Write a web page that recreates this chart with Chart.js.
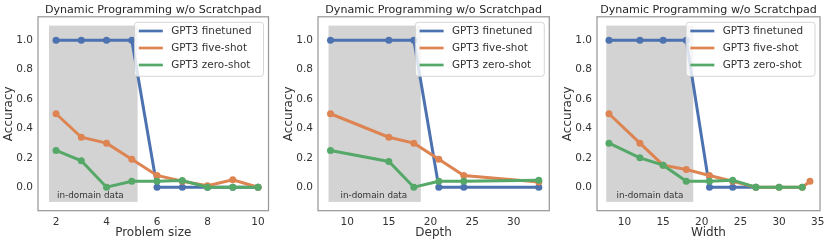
<!DOCTYPE html>
<html>
<head>
<meta charset="utf-8">
<script src="https://cdn.jsdelivr.net/npm/chart.js@4.4.1/dist/chart.umd.min.js"></script>
<style>
  body { margin: 0; background: #fff; }
  #wrap { position: relative; width: 830px; height: 243px; }
  canvas { position: absolute; top: 0; }
</style>
</head>
<body>
<div id="wrap">
  <canvas id="c1" width="275" height="243" style="left:0px"></canvas>
  <canvas id="c2" width="275" height="243" style="left:280px"></canvas>
  <canvas id="c3" width="271" height="243" style="left:559px"></canvas>
</div>
<script>
const seriesNames = ['GPT3 finetuned', 'GPT3 five-shot', 'GPT3 zero-shot'];
const seriesColors = ['#4c72b0', '#dd8452', '#55a868'];
const chartTitle = 'Dynamic Programming w/o Scratchpad';

// Problem size
const sizeX = [2, 3, 4, 5, 6, 7, 8, 9, 10];
const sizeFinetuned = [1, 1, 1, 1, 0, 0, 0, 0, 0];
const sizeFiveShot = [0.5, 0.34, 0.30, 0.19, 0.08, 0.04, 0.01, 0.05, 0];
const sizeZeroShot = [0.25, 0.18, 0, 0.04, 0.04, 0.045, 0, 0, 0];
const sizeTicks = [2, 4, 6, 8, 10];
const sizeDomain = [1.72, 5.23];

// Depth
const depthX = [8, 15, 18, 21, 24, 33];
const depthFinetuned = [1, 1, 1, 0, 0, 0];
const depthFiveShot = [0.5, 0.34, 0.30, 0.19, 0.08, 0.035];
const depthZeroShot = [0.25, 0.175, 0, 0.04, 0.04, 0.047];
const depthTicks = [10, 15, 20, 25, 30];
const depthDomain = [7.76, 18.84];

// Width
const widthXFinetuned = [8, 12, 15, 18, 21, 24, 27];
const widthFinetuned = [1, 1, 1, 1, 0, 0, 0];
const widthXFiveShot = [8, 12, 15, 18, 21, 24, 27, 30, 33, 34];
const widthFiveShot = [0.5, 0.3, 0.15, 0.12, 0.08, 0.04, 0, 0, 0, 0.04];
const widthXZeroShot = [8, 12, 15, 18, 21, 24, 27, 30, 33];
const widthZeroShot = [0.3, 0.2, 0.15, 0.04, 0.04, 0.048, 0, 0, 0];
const widthTicks = [10, 15, 20, 25, 30, 35];
const widthDomain = [7.65, 18.9];

const accTicks = [0, 0.2, 0.4, 0.6, 0.8, 1.0];
const bandY = [-0.1, 1.1];

const FONT = '"DejaVu Sans", sans-serif';
const TEXT = '#333';

const decor = {
    id: 'decor',
    beforeDatasetsDraw(chart, args, opts) {
        const { ctx, scales: { x, y } } = chart;
        const x0 = x.getPixelForValue(opts.domain[0]);
        const x1 = x.getPixelForValue(opts.domain[1]);
        const y0 = y.getPixelForValue(bandY[1]);
        const y1 = y.getPixelForValue(bandY[0]);
        ctx.save();
        ctx.fillStyle = '#d3d3d3';
        ctx.fillRect(x0, y0, x1 - x0, y1 - y0);
        ctx.fillStyle = TEXT;
        ctx.font = '8.8px ' + FONT;
        ctx.textAlign = 'center';
        ctx.textBaseline = 'middle';
        ctx.fillText('in-domain data', x.getPixelForValue(opts.labelX), y.getPixelForValue(-0.055));
        ctx.restore();
    },
    afterDatasetsDraw(chart) {
        const { ctx, chartArea: a } = chart;
        ctx.save();
        // frame
        ctx.strokeStyle = '#999';
        ctx.lineWidth = 1.25;
        ctx.strokeRect(a.left, a.top, a.right - a.left, a.bottom - a.top);
        // title
        ctx.fillStyle = '#262626';
        ctx.font = '11.1px ' + FONT;
        ctx.textAlign = 'center';
        ctx.textBaseline = 'middle';
        ctx.fillText(chartTitle, (a.left + a.right) / 2, a.top - 6.8);
        // legend
        const w = 129, h = 54;
        const bx = a.right - 5 - w, by = a.top + 5.5;
        ctx.fillStyle = 'rgba(255,255,255,0.8)';
        ctx.strokeStyle = 'rgba(204,204,204,0.8)';
        ctx.lineWidth = 1;
        ctx.beginPath();
        ctx.roundRect(bx, by, w, h, 3);
        ctx.fill();
        ctx.stroke();
        ctx.font = '10.4px ' + FONT;
        ctx.textAlign = 'left';
        chart.data.datasets.forEach((ds, i) => {
            const ry = by + 8.7 + i * 17;
            ctx.strokeStyle = ds.borderColor;
            ctx.lineWidth = 2.7;
            ctx.beginPath();
            ctx.moveTo(bx + 4.3, ry);
            ctx.lineTo(bx + 28.3, ry);
            ctx.stroke();
            ctx.fillStyle = TEXT;
            ctx.fillText(ds.label, bx + 36.7, ry);
        });
        ctx.restore();
    }
};

function series(xs, ys, i) {
    return {
        label: seriesNames[i],
        data: xs.map((v, k) => ({ x: v, y: ys[k] })),
        borderColor: seriesColors[i],
        backgroundColor: seriesColors[i],
        borderWidth: 3,
        pointRadius: 3.5,
        pointBorderWidth: 0,
        order: 2 - i
    };
}

function makePanel(id, xTitle, datasets, ticks, xMin, xMax, domain, labelX, padRight) {
    new Chart(document.getElementById(id), {
        type: 'line',
        data: { datasets },
        options: {
            responsive: false,
            animation: false,
            events: [],
            devicePixelRatio: 1,
            layout: { padding: { left: 0, right: padRight, top: 16.8, bottom: 0 } },
            plugins: {
                legend: { display: false },
                tooltip: { enabled: false },
                decor: { domain, labelX }
            },
            scales: {
                x: {
                    type: 'linear',
                    min: xMin,
                    max: xMax,
                    afterBuildTicks: s => { s.ticks = ticks.map(v => ({ value: v })); },
                    afterFit: s => { s.height = 32.3; },
                    grid: { display: false, drawTicks: false },
                    border: { display: false },
                    ticks: { font: { family: FONT, size: 10.5 }, color: TEXT, padding: 5.5, maxRotation: 0, autoSkip: false, callback: v => v },
                    title: { display: true, text: xTitle, font: { family: FONT, size: 12 }, color: TEXT, padding: { top: 0, bottom: 2.5 } }
                },
                y: {
                    min: -0.16,
                    max: 1.16,
                    afterBuildTicks: s => { s.ticks = accTicks.map(v => ({ value: v })); },
                    afterFit: s => { s.width = 38; },
                    grid: { display: false, drawTicks: false },
                    border: { display: false },
                    ticks: { font: { family: FONT, size: 10.5 }, color: TEXT, padding: 5, callback: v => v.toFixed(1) },
                    title: { display: true, text: 'Accuracy', font: { family: FONT, size: 12 }, color: TEXT, padding: { top: 1.3, bottom: 0 } }
                }
            }
        },
        plugins: [decor]
    });
}

makePanel('c1', 'Problem size', [
    series(sizeX, sizeFinetuned, 0),
    series(sizeX, sizeFiveShot, 1),
    series(sizeX, sizeZeroShot, 2)
], sizeTicks, 1.285, 10.415, sizeDomain, 3.36, 6.5);

makePanel('c2', 'Depth', [
    series(depthX, depthFinetuned, 0),
    series(depthX, depthFiveShot, 1),
    series(depthX, depthZeroShot, 2)
], depthTicks, 6.5, 34.26, depthDomain, 13.2, 5.7);

makePanel('c3', 'Width', [
    series(widthXFinetuned, widthFinetuned, 0),
    series(widthXFiveShot, widthFiveShot, 1),
    series(widthXZeroShot, widthZeroShot, 2)
], widthTicks, 6.45, 35.3, widthDomain, 13.3, 9.3);
</script>
</body>
</html>
